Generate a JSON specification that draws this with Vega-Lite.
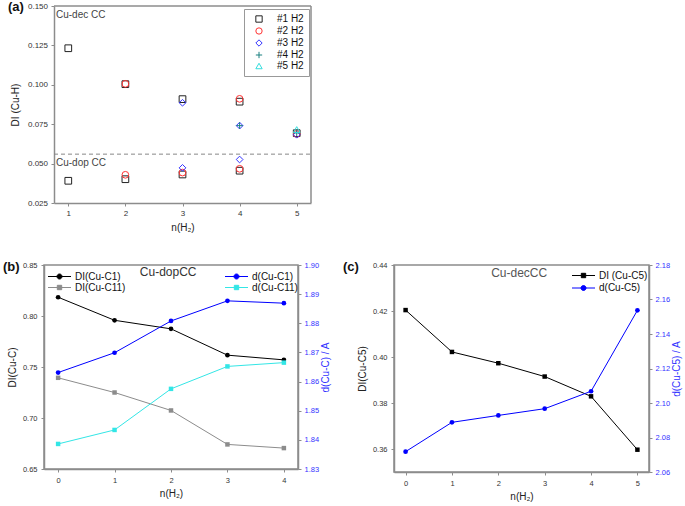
{
  "$schema": "https://vega.github.io/schema/vega-lite/v6.json",
  "background": "white",
  "padding": {"left": 2, "top": 1, "right": 0, "bottom": 0},
  "config": {
    "font": "Liberation Sans",
    "view": {"stroke": "#8c8c8c", "strokeWidth": 1.5},
    "axis": {"domainColor": "#8c8c8c", "domainWidth": 1.5, "tickColor": "#8c8c8c", "tickSize": 3, "tickWidth": 1, "tickCount": 50, "labelFont": "Liberation Sans", "labelFontSize": 7.5, "labelColor": "#333333", "labelPadding": 3.5, "labelOverlap": false, "labelSeparation": 0, "titleFont": "Liberation Sans", "titleFontSize": 10, "titleFontWeight": "normal", "titleColor": "#222222", "titlePadding": 5, "grid": false},
    "legend": {"labelFont": "Liberation Sans", "labelColor": "#111111", "labelFontSize": 10},
    "title": {"font": "Liberation Sans", "fontSize": 13, "fontWeight": "bold", "anchor": "start", "frame": "group", "offset": 0, "baseline": "top", "color": "#111111"}
  },
  "resolve": {"scale": {"color": "independent", "shape": "independent"}, "legend": {"color": "independent", "shape": "independent"}},
  "columns": 2,
  "align": "each",
  "spacing": {"row": 27, "column": 10},
  "concat": [
    {
      "width": 267,
      "height": 197,
      "view": {"stroke": null},
      "title": {"text": "(a)", "dx": -36, "dy": 16},
      "layer": [
        {
          "data": {"values": [{}]},
          "mark": {"type": "rule", "strokeDash": [4, 3], "color": "#888888", "strokeWidth": 1},
          "encoding": {"y": {"datum": 0.056, "type": "quantitative"}, "x": {"datum": 0.75, "type": "quantitative"}, "x2": {"datum": 5.25}}
        },
        {
          "data": {"values": [{}]},
          "mark": {"type": "rule", "color": "#8c8c8c", "strokeWidth": 1.5},
          "encoding": {"y": {"datum": 0.15, "type": "quantitative"}, "x": {"datum": 0.75, "type": "quantitative"}, "x2": {"datum": 5.25}}
        },
        {
          "data": {"values": [{}]},
          "mark": {"type": "rule", "color": "#8c8c8c", "strokeWidth": 1.5},
          "encoding": {"x": {"datum": 5.25, "type": "quantitative"}}
        },
        {
          "data": {"values": [
            {"n": 1, "DI": 0.1232, "series": "#1 H2"},
            {"n": 1, "DI": 0.0391, "series": "#1 H2"},
            {"n": 2, "DI": 0.1004, "series": "#1 H2"},
            {"n": 2, "DI": 0.0401, "series": "#1 H2"},
            {"n": 3, "DI": 0.0909, "series": "#1 H2"},
            {"n": 3, "DI": 0.0431, "series": "#1 H2"},
            {"n": 4, "DI": 0.0893, "series": "#1 H2"},
            {"n": 4, "DI": 0.0455, "series": "#1 H2"},
            {"n": 5, "DI": 0.0693, "series": "#1 H2"},
            {"n": 2, "DI": 0.1006, "series": "#2 H2"},
            {"n": 2, "DI": 0.0429, "series": "#2 H2"},
            {"n": 3, "DI": 0.0443, "series": "#2 H2"},
            {"n": 4, "DI": 0.0911, "series": "#2 H2"},
            {"n": 4, "DI": 0.0467, "series": "#2 H2"},
            {"n": 5, "DI": 0.0688, "series": "#2 H2"},
            {"n": 3, "DI": 0.0886, "series": "#3 H2"},
            {"n": 3, "DI": 0.0473, "series": "#3 H2"},
            {"n": 4, "DI": 0.0741, "series": "#3 H2"},
            {"n": 4, "DI": 0.0526, "series": "#3 H2"},
            {"n": 5, "DI": 0.0683, "series": "#3 H2"},
            {"n": 4, "DI": 0.0741, "series": "#4 H2"},
            {"n": 5, "DI": 0.0695, "series": "#4 H2"},
            {"n": 5, "DI": 0.0716, "series": "#5 H2"}
          ]},
          "mark": {"type": "point", "filled": false, "size": 45, "strokeWidth": 1, "opacity": 1},
          "encoding": {
            "x": {"field": "n", "type": "quantitative", "scale": {"domain": [0.75, 5.25], "range": [10, 267], "nice": false, "zero": false}, "axis": {"values": [1, 2, 3, 4, 5], "tickCount": 50, "format": "d", "title": "n(H₂)", "labelFontSize": 8, "labelOverlap": false}},
            "y": {"field": "DI", "type": "quantitative", "scale": {"domain": [0.025, 0.15], "nice": false, "zero": false}, "axis": {"values": [0.025, 0.05, 0.075, 0.1, 0.125, 0.15], "tickCount": 50, "offset": -10, "format": ".3f", "title": "DI (Cu-H)", "titlePadding": 7, "labelFontSize": 8, "labelOverlap": false}},
            "color": {"field": "series", "type": "nominal", "scale": {"domain": ["#1 H2", "#2 H2", "#3 H2", "#4 H2", "#5 H2"], "range": ["#222222", "#ff3333", "#3333ff", "#1a8080", "#33dddd"]},
              "legend": {"title": null, "orient": "none", "legendX": 200, "legendY": 3, "padding": 5, "strokeColor": "#999999", "fillColor": "white", "symbolSize": 40, "symbolStrokeWidth": 1, "rowPadding": 0, "symbolOffset": 5, "labelOffset": 13}},
            "shape": {"field": "series", "type": "nominal", "scale": {"domain": ["#1 H2", "#2 H2", "#3 H2", "#4 H2", "#5 H2"], "range": ["square", "circle", "diamond", "M-1,0H1M0,-1V1", "triangle-up"]},
              "legend": {"title": null, "orient": "none", "legendX": 200, "legendY": 3, "padding": 5, "strokeColor": "#999999", "fillColor": "white", "symbolSize": 40, "symbolStrokeWidth": 1, "rowPadding": 0, "symbolOffset": 5, "labelOffset": 13}}
          }
        },
        {
          "data": {"values": [{}]},
          "mark": {"type": "text", "text": "Cu-dec CC", "align": "left", "baseline": "top", "dx": 2, "dy": 4, "fontSize": 10, "color": "#444444"},
          "encoding": {"x": {"datum": 0.75, "type": "quantitative"}, "y": {"datum": 0.15, "type": "quantitative"}}
        },
        {
          "data": {"values": [{}]},
          "mark": {"type": "text", "text": "Cu-dop CC", "align": "left", "baseline": "top", "dx": 2, "dy": 4, "fontSize": 10, "color": "#444444"},
          "encoding": {"x": {"datum": 0.75, "type": "quantitative"}, "y": {"datum": 0.056, "type": "quantitative"}}
        }
      ]
    },
    {
      "width": 1,
      "height": 1,
      "view": {"stroke": null, "fill": null},
      "data": {"values": []},
      "mark": {"type": "point"}
    },
    {
      "width": 254,
      "height": 204,
      "title": {"text": "(b)", "dx": -41, "dy": 17},
      "layer": [
        {
          "data": {"values": [
            {"n": 0, "value": 0.8184, "series": "DI(Cu-C1)"},
            {"n": 1, "value": 0.7958, "series": "DI(Cu-C1)"},
            {"n": 2, "value": 0.7874, "series": "DI(Cu-C1)"},
            {"n": 3, "value": 0.7616, "series": "DI(Cu-C1)"},
            {"n": 4, "value": 0.757, "series": "DI(Cu-C1)"},
            {"n": 0, "value": 0.7394, "series": "DI(Cu-C11)"},
            {"n": 1, "value": 0.725, "series": "DI(Cu-C11)"},
            {"n": 2, "value": 0.7074, "series": "DI(Cu-C11)"},
            {"n": 3, "value": 0.6741, "series": "DI(Cu-C11)"},
            {"n": 4, "value": 0.6705, "series": "DI(Cu-C11)"}
          ]},
          "layer": [
            {
              "mark": {"type": "line", "strokeWidth": 1},
              "encoding": {
                "x": {"field": "n", "type": "quantitative", "scale": {"domain": [-0.25, 4.25], "nice": false, "zero": false}, "axis": {"values": [0, 1, 2, 3, 4], "tickCount": 50, "format": "d", "title": "n(H₂)", "labelPadding": 4, "labelOverlap": false}},
                "y": {"field": "value", "type": "quantitative", "scale": {"domain": [0.65, 0.85], "nice": false, "zero": false}, "axis": {"values": [0.65, 0.7, 0.75, 0.8, 0.85], "tickCount": 50, "format": ".2f", "title": "DI(Cu-C)", "labelPadding": 4, "labelOverlap": false}},
                "color": {"field": "series", "type": "nominal", "scale": {"domain": ["DI(Cu-C1)", "DI(Cu-C11)"], "range": ["#000000", "#8c8c8c"]},
                  "legend": {"title": null, "orient": "none", "legendX": 2, "legendY": 6, "padding": 0, "symbolSize": 30, "rowPadding": -2.6, "symbolOffset": 8, "labelOffset": 10,
                    "encode": {"symbols": {"update": {
                      "shape": {"signal": "datum.value === 'DI(Cu-C1)' ? 'M-2.3,0H2.3M-0.5,0A0.5,0.5 0 1,1 0.5,0A0.5,0.5 0 1,1 -0.5,0Z' : 'M-2.3,0H2.3M-0.44,-0.44H0.44V0.44H-0.44Z'"},
                      "size": {"value": 100},
                      "fill": {"signal": "datum.value === 'DI(Cu-C1)' ? '#000000' : '#8c8c8c'"},
                      "stroke": {"signal": "datum.value === 'DI(Cu-C1)' ? '#000000' : '#8c8c8c'"},
                      "strokeWidth": {"value": 1}, "opacity": {"value": 1}}}}}}
              }
            },
            {
              "transform": [{"filter": "datum.series === 'DI(Cu-C1)'"}],
              "mark": {"type": "point", "filled": true, "size": 22, "opacity": 1, "shape": "circle"},
              "encoding": {
                "x": {"field": "n", "type": "quantitative"},
                "y": {"field": "value", "type": "quantitative"},
                "color": {"field": "series", "type": "nominal", "legend": null}
              }
            },
            {
              "transform": [{"filter": "datum.series === 'DI(Cu-C11)'"}],
              "mark": {"type": "point", "filled": true, "size": 20, "opacity": 1, "shape": "square"},
              "encoding": {
                "x": {"field": "n", "type": "quantitative"},
                "y": {"field": "value", "type": "quantitative"},
                "color": {"field": "series", "type": "nominal", "legend": null}
              }
            },
            {
              "data": {"values": [{}]},
              "mark": {"type": "text", "text": "Cu-dopCC", "fontSize": 12, "color": "#333333", "align": "center", "baseline": "top", "dy": 2},
              "encoding": {"x": {"datum": 1.95, "type": "quantitative"}, "y": {"datum": 0.85, "type": "quantitative"}}
            }
          ]
        },
        {
          "data": {"values": [
            {"n": 0, "value": 1.8631, "series": "d(Cu-C1)"},
            {"n": 1, "value": 1.8699, "series": "d(Cu-C1)"},
            {"n": 2, "value": 1.8808, "series": "d(Cu-C1)"},
            {"n": 3, "value": 1.8877, "series": "d(Cu-C1)"},
            {"n": 4, "value": 1.8869, "series": "d(Cu-C1)"},
            {"n": 0, "value": 1.8386, "series": "d(Cu-C11)"},
            {"n": 1, "value": 1.8434, "series": "d(Cu-C11)"},
            {"n": 2, "value": 1.8575, "series": "d(Cu-C11)"},
            {"n": 3, "value": 1.8652, "series": "d(Cu-C11)"},
            {"n": 4, "value": 1.8665, "series": "d(Cu-C11)"}
          ]},
          "layer": [
            {
              "mark": {"type": "line", "strokeWidth": 1},
              "encoding": {
                "x": {"field": "n", "type": "quantitative"},
                "y": {"field": "value", "type": "quantitative", "scale": {"domain": [1.83, 1.9], "nice": false, "zero": false}, "axis": {"orient": "right", "values": [1.83, 1.84, 1.85, 1.86, 1.87, 1.88, 1.89, 1.9], "tickCount": 50, "format": ".2f", "title": "d(Cu-C) / A", "labelColor": "#3333ff", "titleColor": "#3333ff", "titleAngle": 270, "titleBaseline": "top", "labelPadding": 3, "titlePadding": 2, "labelOverlap": false}},
                "color": {"field": "series", "type": "nominal", "scale": {"domain": ["d(Cu-C1)", "d(Cu-C11)"], "range": ["#0000ff", "#33e6e6"]},
                  "legend": {"title": null, "orient": "none", "legendX": 179, "legendY": 6, "padding": 0, "symbolSize": 30, "rowPadding": -2.6, "symbolOffset": 8, "labelOffset": 10,
                    "encode": {"symbols": {"update": {
                      "shape": {"signal": "datum.value === 'd(Cu-C1)' ? 'M-2.3,0H2.3M-0.5,0A0.5,0.5 0 1,1 0.5,0A0.5,0.5 0 1,1 -0.5,0Z' : 'M-2.3,0H2.3M-0.44,-0.44H0.44V0.44H-0.44Z'"},
                      "size": {"value": 100},
                      "fill": {"signal": "datum.value === 'd(Cu-C1)' ? '#0000ff' : '#33e6e6'"},
                      "stroke": {"signal": "datum.value === 'd(Cu-C1)' ? '#0000ff' : '#33e6e6'"},
                      "strokeWidth": {"value": 1}, "opacity": {"value": 1}}}}}}
              }
            },
            {
              "transform": [{"filter": "datum.series === 'd(Cu-C1)'"}],
              "mark": {"type": "point", "filled": true, "size": 22, "opacity": 1, "shape": "circle"},
              "encoding": {
                "x": {"field": "n", "type": "quantitative"},
                "y": {"field": "value", "type": "quantitative"},
                "color": {"field": "series", "type": "nominal", "legend": null}
              }
            },
            {
              "transform": [{"filter": "datum.series === 'd(Cu-C11)'"}],
              "mark": {"type": "point", "filled": true, "size": 20, "opacity": 1, "shape": "square"},
              "encoding": {
                "x": {"field": "n", "type": "quantitative"},
                "y": {"field": "value", "type": "quantitative"},
                "color": {"field": "series", "type": "nominal", "legend": null}
              }
            }
          ]
        }
      ],
      "resolve": {"scale": {"y": "independent", "color": "independent"}, "legend": {"color": "independent"}}
    },
    {
      "width": 255,
      "height": 207,
      "title": {"text": "(c)", "dx": -51, "dy": 17},
      "layer": [
        {
          "data": {"values": [
            {"n": 0, "value": 0.4204, "series": "DI (Cu-C5)"},
            {"n": 1, "value": 0.4022, "series": "DI (Cu-C5)"},
            {"n": 2, "value": 0.3973, "series": "DI (Cu-C5)"},
            {"n": 3, "value": 0.3915, "series": "DI (Cu-C5)"},
            {"n": 4, "value": 0.3829, "series": "DI (Cu-C5)"},
            {"n": 5, "value": 0.3597, "series": "DI (Cu-C5)"}
          ]},
          "layer": [
            {
              "mark": {"type": "line", "strokeWidth": 1},
              "encoding": {
                "x": {"field": "n", "type": "quantitative", "scale": {"domain": [-0.25, 5.25], "nice": false, "zero": false}, "axis": {"values": [0, 1, 2, 3, 4, 5], "tickCount": 50, "format": "d", "title": "n(H₂)", "labelPadding": 4, "labelOverlap": false}},
                "y": {"field": "value", "type": "quantitative", "scale": {"domain": [0.35, 0.44], "nice": false, "zero": false}, "axis": {"values": [0.36, 0.38, 0.4, 0.42, 0.44], "tickCount": 50, "format": ".2f", "title": "DI(Cu-C5)", "labelPadding": 4, "labelOverlap": false}},
                "color": {"field": "series", "type": "nominal", "scale": {"domain": ["DI (Cu-C5)", "d(Cu-C5)"], "range": ["#000000", "#0000ff"]},
                  "legend": {"title": null, "orient": "none", "legendX": 176, "legendY": 5, "padding": 0, "symbolSize": 30, "rowPadding": 1.5, "symbolOffset": 8, "labelOffset": 10,
                    "encode": {"symbols": {"update": {
                      "shape": {"signal": "datum.value === 'd(Cu-C5)' ? 'M-2.3,0H2.3M-0.5,0A0.5,0.5 0 1,1 0.5,0A0.5,0.5 0 1,1 -0.5,0Z' : 'M-2.3,0H2.3M-0.44,-0.44H0.44V0.44H-0.44Z'"},
                      "size": {"value": 100},
                      "fill": {"signal": "datum.value === 'd(Cu-C5)' ? '#0000ff' : '#000000'"},
                      "stroke": {"signal": "datum.value === 'd(Cu-C5)' ? '#0000ff' : '#000000'"},
                      "strokeWidth": {"value": 1}, "opacity": {"value": 1}}}}}}
              }
            },
            {
              "mark": {"type": "point", "filled": true, "size": 20, "opacity": 1, "shape": "square"},
              "encoding": {
                "x": {"field": "n", "type": "quantitative"},
                "y": {"field": "value", "type": "quantitative"},
                "color": {"field": "series", "type": "nominal", "legend": null}
              }
            },
            {
              "data": {"values": [{}]},
              "mark": {"type": "text", "text": "Cu-decCC", "fontSize": 12, "color": "#555555", "align": "center", "baseline": "top", "dy": 3},
              "encoding": {"x": {"datum": 2.45, "type": "quantitative"}, "y": {"datum": 0.44, "type": "quantitative"}}
            }
          ]
        },
        {
          "data": {"values": [
            {"n": 0, "value": 2.0718, "series": "d(Cu-C5)"},
            {"n": 1, "value": 2.0888, "series": "d(Cu-C5)"},
            {"n": 2, "value": 2.0928, "series": "d(Cu-C5)"},
            {"n": 3, "value": 2.0967, "series": "d(Cu-C5)"},
            {"n": 4, "value": 2.1068, "series": "d(Cu-C5)"},
            {"n": 5, "value": 2.1537, "series": "d(Cu-C5)"}
          ]},
          "layer": [
            {
              "mark": {"type": "line", "strokeWidth": 1},
              "encoding": {
                "x": {"field": "n", "type": "quantitative"},
                "y": {"field": "value", "type": "quantitative", "scale": {"domain": [2.06, 2.18], "nice": false, "zero": false}, "axis": {"orient": "right", "values": [2.06, 2.08, 2.1, 2.12, 2.14, 2.16, 2.18], "tickCount": 50, "format": ".2f", "title": "d(Cu-C5) / A", "labelColor": "#3333ff", "titleColor": "#3333ff", "titleAngle": 270, "titleBaseline": "top", "labelPadding": 3, "titlePadding": 2, "labelOverlap": false}},
                "color": {"field": "series", "type": "nominal"}
              }
            },
            {
              "mark": {"type": "point", "filled": true, "size": 22, "opacity": 1, "shape": "circle"},
              "encoding": {
                "x": {"field": "n", "type": "quantitative"},
                "y": {"field": "value", "type": "quantitative"},
                "color": {"field": "series", "type": "nominal", "legend": null}
              }
            }
          ]
        }
      ],
      "resolve": {"scale": {"y": "independent"}}
    }
  ]
}
